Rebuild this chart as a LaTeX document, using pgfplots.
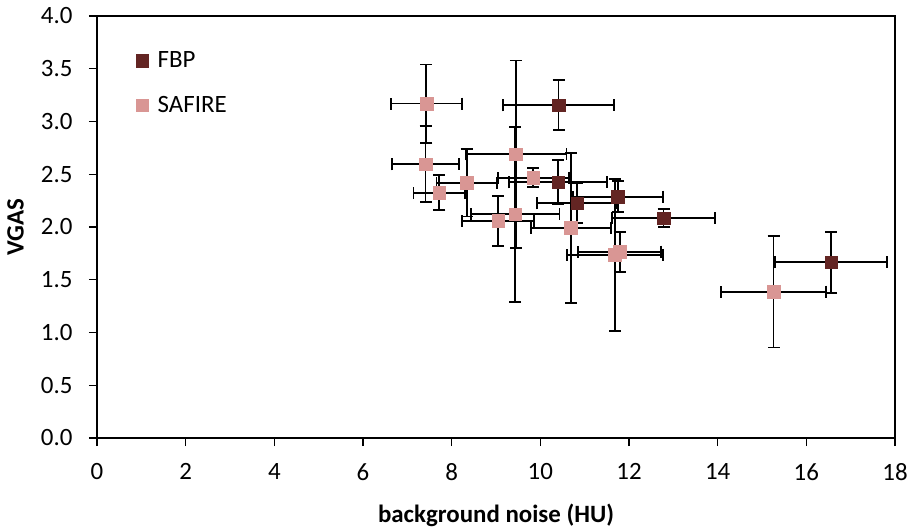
\documentclass[border=0pt]{standalone}
\usepackage{pgfplots}
\pgfplotsset{compat=1.18}
\usepackage{fontspec}
\setmainfont{Carlito}

\definecolor{fbpcol}{HTML}{632523}
\definecolor{safcol}{HTML}{D99694}

% x  y  ex  ey  (means with +/- spread)
\pgfplotstableread{
x      y      ex    ey
10.41  3.153  1.26  0.237
10.40  2.424  1.11  0.21
10.83  2.225  0.90  0.19
11.75  2.287  1.01  0.147
12.78  2.083  1.16  0.085
16.56  1.665  1.26  0.29
}\fbpdata

\pgfplotstableread{
x      y      ex    ey
7.43   3.170  0.80  0.37
7.41   2.594  0.75  0.36
9.45   2.689  1.14  0.89
9.43   2.120  1.00  0.83
9.84   2.467  0.80  0.09
8.34   2.420  0.68  0.32
7.72   2.325  0.58  0.165
9.05   2.057  0.81  0.24
10.69  1.993  0.90  0.71
11.79  1.766  0.94  0.19
11.68  1.735  1.08  0.72
15.26  1.387  1.18  0.53
}\safdata

\begin{document}
\begin{tikzpicture}
\begin{axis}[
  name=ax,
  width=798bp, height=422bp, scale only axis,
  xmin=0, xmax=18, ymin=0, ymax=4,
  xtick={0,2,...,18}, ytick={0,0.5,...,4},
  tick align=outside, tick pos=left,
  major tick length=8bp,
  every tick/.style={black, line width=1.4bp},
  axis line style={line width=1.6bp},
  scaled ticks=false,
  /pgf/number format/assume math mode=true,
  ticklabel style={font=\fontsize{25}{29}\selectfont},
  yticklabel style={xshift=-13bp, /pgf/number format/.cd, fixed, fixed zerofill, precision=1},
  xticklabel style={yshift=-14bp},
  xlabel={background noise (HU)},
  ylabel={VGAS},
  label style={font=\fontsize{25}{29}\selectfont\bfseries},
  xlabel style={at={(axis description cs:0.5,-0.1825)}, anchor=center},
  ylabel style={at={(axis description cs:-0.1021,0.5)}, anchor=center},
  legend style={draw=none, fill=none, at={(0.045,0.925)}, anchor=north west,
    font=\fontsize{25}{29}\selectfont, row sep=23bp},
  legend cell align=left,
  legend image code/.code={\draw[#1] plot coordinates {(0bp,0bp)};},
  error bars/error bar style={black, line width=1.8bp},
  error bars/error mark options={black, rotate=90, mark size=6bp, line width=1.8bp},
]
\addlegendimage{only marks, mark=square*, mark size=6.3bp, color=fbpcol}
\addlegendentry{\hspace{7bp}FBP}
\addlegendimage{only marks, mark=square*, mark size=6.3bp, color=safcol}
\addlegendentry{\hspace{7bp}SAFIRE}

\addplot[forget plot, only marks, mark=square*, mark size=6.3bp, color=fbpcol,
  error bars/.cd, x dir=both, x explicit, y dir=both, y explicit]
  table[x=x, y=y, x error=ex, y error=ey] {\fbpdata};
\addplot[forget plot, only marks, mark=square*, mark size=6.3bp, color=safcol,
  error bars/.cd, x dir=both, x explicit, y dir=both, y explicit]
  table[x=x, y=y, x error=ex, y error=ey] {\safdata};
\end{axis}
\path[use as bounding box] (ax.south west) ++(-97bp,-93bp) coordinate (bl)
  (ax.north east) ++(18bp,16bp) coordinate (tr) (bl) rectangle (tr);
\end{tikzpicture}
\end{document}
